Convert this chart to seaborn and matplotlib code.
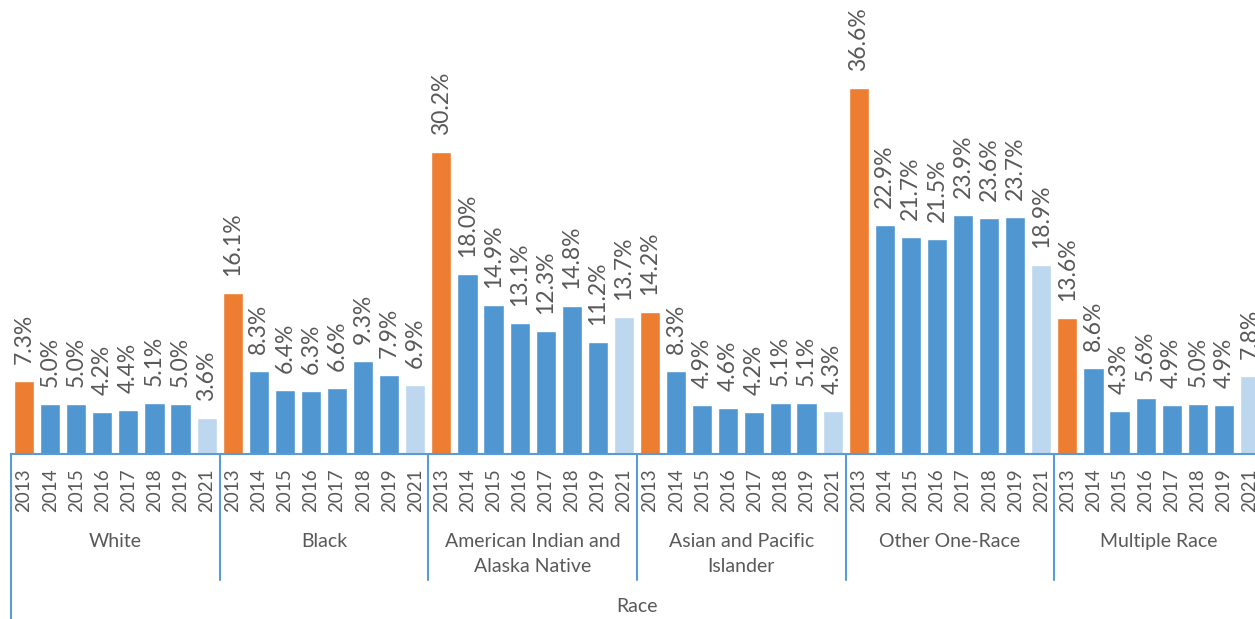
import matplotlib
matplotlib.use("Agg")
import matplotlib.pyplot as plt
import matplotlib.transforms as mtransforms
import seaborn as sns
import pandas as pd

groups = ["White", "Black", "American Indian and\nAlaska Native",
          "Asian and Pacific\nIslander", "Other One-Race", "Multiple Race"]
years = ["2013", "2014", "2015", "2016", "2017", "2018", "2019", "2021"]
white = [7.3, 5.0, 5.0, 4.2, 4.4, 5.1, 5.0, 3.6]
black = [16.1, 8.3, 6.4, 6.3, 6.6, 9.3, 7.9, 6.9]
aian = [30.2, 18.0, 14.9, 13.1, 12.3, 14.8, 11.2, 13.7]
api = [14.2, 8.3, 4.9, 4.6, 4.2, 5.1, 5.1, 4.3]
other = [36.6, 22.9, 21.7, 21.5, 23.9, 23.6, 23.7, 18.9]
multiple = [13.6, 8.6, 4.3, 5.6, 4.9, 5.0, 4.9, 7.8]
series = [white, black, aian, api, other, multiple]

rows = []
for g, vals in zip(groups, series):
    for y, v in zip(years, vals):
        kind = "first" if y == "2013" else ("last" if y == "2021" else "mid")
        rows.append({"group": g, "year": y, "key": f"{g}|{y}", "value": v, "kind": kind})
df = pd.DataFrame(rows)

sns.set_theme(style="white")
plt.rcParams["font.family"] = ["Lato", "DejaVu Sans"]

W, H = 1255, 619
fig = plt.figure(figsize=(W / 100, H / 100), dpi=100)
ax_left, ax_right, ax_base = 11, 1263, 454
ax = fig.add_axes([ax_left / W, (H - ax_base) / H, (ax_right - ax_left) / W, ax_base / H])

palette = {"first": "#ED7D31", "mid": "#5096D1", "last": "#BDD7EE"}
sns.barplot(data=df, x="key", y="value", hue="kind", palette=palette,
            order=list(df["key"]), dodge=False, width=0.77, legend=False,
            ax=ax, saturation=1)

ax.set_xlim(-0.5, len(df) - 0.5)
ax.set_ylim(0, 45.4)
for s in ["top", "right", "left"]:
    ax.spines[s].set_visible(False)
ax.spines["bottom"].set_color("#5B9BD5")
ax.spines["bottom"].set_linewidth(1.5)
ax.set_yticks([])
ax.set_ylabel("")
ax.set_xlabel("")
ax.set_xticks(range(len(df)))
ax.set_xticklabels(df["year"], rotation=90, fontsize=13.5, color="#595959")
ax.tick_params(axis="x", length=0, pad=10)

txt = "#595959"
for i, v in enumerate(df["value"]):
    ax.annotate(f"{v:.1f}%", xy=(i, v), xytext=(0, 12), textcoords="offset points",
                rotation=90, ha="center", va="bottom", fontsize=16.5, color=txt)

trans = mtransforms.blended_transform_factory(ax.transData, ax.transAxes)
sep_bottom = -(580 - ax_base) / ax_base
full_bottom = -(H - ax_base) / ax_base
n = len(years)
for k in range(len(groups) + 1):
    xpos = k * n - 0.5
    yb = full_bottom if k in (0, len(groups)) else sep_bottom
    ax.plot([xpos, xpos], [0, yb], color="#5B9BD5", lw=1.5, transform=trans, clip_on=False)

label_y = -(533 - ax_base) / ax_base
for k, g in enumerate(groups):
    ax.text(k * n + (n - 1) / 2, label_y, g, transform=trans, ha="center", va="top",
            fontsize=14, color=txt, linespacing=1.6)

ax.text(0.5, -(607 - ax_base) / ax_base, "Race", transform=ax.transAxes,
        ha="center", va="center", fontsize=14, color=txt)

fig.savefig("out.png", dpi=100)
